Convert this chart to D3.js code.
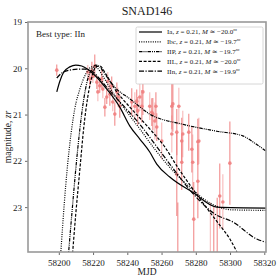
<!DOCTYPE html>
<html>
<head>
<meta charset="utf-8">
<script src="https://cdn.jsdelivr.net/npm/d3@7"></script>
<style>
  body { margin: 0; background: #fff; }
  text { font-family: "Liberation Serif", "DejaVu Serif", serif; fill: #222; }
</style>
</head>
<body>
<div id="chart"></div>
<script>
// observations: mjd, magnitude, error
var obsMjd = [58198.8, 58216.9, 58218.1, 58219.3, 58219.9, 58221.0, 58222.2, 58222.8, 58223.9, 58225.1,
  58225.7, 58226.9, 58228.0, 58228.6, 58229.8, 58230.9, 58231.5, 58232.7, 58233.9, 58234.5,
  58235.6, 58242.6, 58244.4, 58245.5, 58246.1, 58247.3, 58248.5, 58249.1, 58253.1, 58254.3,
  58254.9, 58256.1, 58256.7, 58257.2, 58260.1, 58266.0, 58266.6, 58266.0, 58268.9, 58268.9,
  58270.1, 58271.8, 58271.8, 58272.4, 58275.9, 58277.7, 58278.2, 58278.8, 58281.2, 58281.8,
  58281.2, 58294.0, 58295.8, 58299.9, 58269.5, 58288.5, 58290.5, 58292.5];
var obsMag = [20.04, 20.08, 20.23, 20.06, 20.17, 19.95, 20.30, 20.51, 20.38, 20.23,
  20.45, 20.84, 20.62, 20.28, 20.56, 20.38, 20.73, 20.99, 20.51, 20.62,
  20.82, 20.73, 20.82, 20.71, 20.92, 20.62, 20.82, 20.51, 20.82, 20.95,
  20.99, 21.14, 20.82, 21.27, 21.57, 20.82, 20.77, 21.42, 21.38, 22.29,
  20.82, 21.57, 22.03, 21.42, 21.38, 21.75, 22.03, 23.26, 21.59, 21.57,
  22.44, 22.76, 22.89, 22.05, 24.2, 24.1, 24.4, 24.0];
var obsErr = [0.12, 0.15, 0.15, 0.2, 0.15, 0.25, 0.15, 0.2, 0.15, 0.2,
  0.2, 0.2, 0.15, 0.2, 0.25, 0.2, 0.2, 0.25, 0.2, 0.2,
  0.25, 0.3, 0.3, 0.25, 0.3, 0.3, 0.35, 0.5, 0.3, 0.3,
  0.35, 0.4, 0.3, 0.3, 0.4, 0.5, 0.6, 0.4, 0.5, 0.9,
  0.4, 0.5, 0.6, 0.5, 0.4, 0.5, 0.6, 0.8, 0.5, 0.5,
  0.8, 0.7, 0.6, 0.9, 1.3, 1.2, 1.4, 1.2];

// model curves
var iaMjd = [58198.8, 58200.6, 58202.9, 58206.4, 58209.9, 58213.4, 58216.9, 58221.0, 58228.0, 58235.6, 58241.5, 58247.3, 58253.1, 58257.2, 58264.8, 58278.2, 58292.3, 58321];
var iaMag = [20.51, 20.28, 20.08, 19.97, 19.93, 19.95, 20.02, 20.15, 20.45, 20.84, 21.25, 21.53, 21.81, 22.07, 22.35, 22.68, 23.00, 23.02];
var ibcMjd = [58200.6, 58202.3, 58204.1, 58206.4, 58209.3, 58212.3, 58215.8, 58219.3, 58222.2, 58225.7, 58231.0, 58238.5, 58247.3, 58256.1, 58264.8, 58276.5, 58288.2, 58301.6, 58321];
var ibcMag = [24.3, 23.37, 22.50, 21.64, 20.88, 20.45, 20.12, 19.97, 19.99, 20.17, 20.49, 20.88, 21.31, 21.75, 22.14, 22.57, 22.91, 23.06, 23.07];
var iipMjd = [58205.0, 58207.6, 58209.9, 58212.3, 58214.6, 58216.9, 58219.3, 58221.6, 58223.9, 58227.4, 58232.7, 58241.5, 58253.1, 58272.4, 58292.3, 58307.4, 58314.5, 58321];
var iipMag = [24.3, 23.15, 22.18, 21.31, 20.66, 20.23, 20.02, 19.93, 19.97, 20.15, 20.41, 20.66, 20.99, 21.21, 21.36, 21.46, 21.62, 21.79];
var iilMjd = [58207.4, 58209.9, 58212.3, 58214.6, 58216.9, 58219.3, 58221.6, 58223.9, 58227.4, 58232.7, 58241.5, 58253.1, 58261.9, 58268.9, 58281.2, 58288.2, 58294.0, 58299.9, 58307.0];
var iilMag = [24.3, 23.15, 22.18, 21.27, 20.62, 20.19, 19.97, 19.95, 20.12, 20.45, 20.84, 21.31, 21.70, 22.11, 22.76, 23.11, 23.39, 23.69, 24.2];
var iinMjd = [58198.8, 58201.8, 58206.4, 58211.1, 58215.2, 58219.3, 58223.9, 58229.8, 58238.5, 58247.3, 58256.1, 58264.8, 58278.2, 58291.1, 58301.6, 58315.6, 58321];
var iinMag = [20.21, 20.10, 20.04, 20.02, 20.02, 20.06, 20.23, 20.49, 20.84, 21.21, 21.64, 22.07, 22.70, 23.15, 23.32, 23.69, 23.76];

var modelNames = ["Ia", "Ibc", "IIP", "IIL", "IIn"];
var modelAbsMag = ["20.0", "19.7", "19.7", "20.0", "19.9"];
var redshift = "0.21";
var xTicks = [58200, 58220, 58240, 58260, 58280, 58300, 58320];
var yTicks = [19, 20, 21, 22, 23];

var W = 280, H = 280;
var m = {left: 28, right: 14, top: 22, bottom: 28};

var svg = d3.select("#chart").append("svg")
    .attr("width", W).attr("height", H);

var x = d3.scaleLinear().domain([58182, 58321]).range([m.left, W - m.right]);
var y = d3.scaleLinear().domain([19, 23.97]).range([m.top, H - m.bottom]);

svg.append("clipPath").attr("id", "clip")
  .append("rect")
    .attr("x", m.left).attr("y", m.top)
    .attr("width", W - m.left - m.right).attr("height", H - m.top - m.bottom);

var plot = svg.append("g").attr("clip-path", "url(#clip)");

// error bars + points
var obs = obsMjd.map(function(d, i) { return {t: d, m: obsMag[i], e: obsErr[i]}; });
plot.selectAll("line.err").data(obs).enter().append("line")
    .attr("class", "err")
    .attr("x1", function(d) { return x(d.t); }).attr("x2", function(d) { return x(d.t); })
    .attr("y1", function(d) { return y(d.m - d.e); }).attr("y2", function(d) { return y(d.m + d.e); })
    .attr("stroke", "#f08080")
    .attr("stroke-opacity", function(d, i) { return i % 3 == 1 ? 0.55 : 0.9; })
    .attr("stroke-width", 1.1);
plot.selectAll("circle").data(obs).enter().append("circle")
    .attr("cx", function(d) { return x(d.t); })
    .attr("cy", function(d) { return y(d.m); })
    .attr("r", 1.8)
    .attr("fill", "#f08080")
    .attr("fill-opacity", 0.9);

var models = [
  {t: iaMjd, m: iaMag, dash: null},
  {t: ibcMjd, m: ibcMag, dash: "1,1.3"},
  {t: iipMjd, m: iipMag, dash: "3.5,1,1,1,1,1"},
  {t: iilMjd, m: iilMag, dash: "3,1.6"},
  {t: iinMjd, m: iinMag, dash: "5,1.5,1.2,1.5"}
];

var line = d3.line()
    .x(function(d) { return x(d[0]); })
    .y(function(d) { return y(d[1]); })
    .curve(d3.curveMonotoneX);

models.forEach(function(md) {
  var pts = md.t.map(function(t, i) { return [t, md.m[i]]; });
  plot.append("path")
      .attr("d", line(pts))
      .attr("fill", "none")
      .attr("stroke", "#000")
      .attr("stroke-width", 1.2)
      .attr("stroke-dasharray", md.dash);
});

// axes
var xAxis = d3.axisBottom(x).tickValues(xTicks).tickSize(3).tickFormat(d3.format("d"));
var yAxis = d3.axisLeft(y).tickValues(yTicks).tickSize(3).tickFormat(d3.format("d"));
var gx = svg.append("g").attr("transform", "translate(0," + (H - m.bottom) + ")").call(xAxis);
var gy = svg.append("g").attr("transform", "translate(" + m.left + ",0)").call(yAxis);
[gx, gy].forEach(function(g) {
  g.select(".domain").remove();
  g.selectAll(".tick line").attr("stroke", "#444").attr("stroke-width", 0.8);
  g.selectAll(".tick text").attr("font-family", "Liberation Serif").attr("font-size", 9).attr("fill", "#333");
});
gx.selectAll(".tick text").attr("dy", "0.9em");

svg.append("rect")
    .attr("x", m.left).attr("y", m.top)
    .attr("width", W - m.left - m.right).attr("height", H - m.top - m.bottom)
    .attr("fill", "none").attr("stroke", "#999").attr("stroke-width", 1.6);

// title and labels
svg.append("text").attr("x", (m.left + W - m.right) / 2).attr("y", 15)
    .attr("text-anchor", "middle").attr("font-size", 12).text("SNAD146");
svg.append("text").attr("x", (m.left + W - m.right) / 2).attr("y", 275)
    .attr("text-anchor", "middle").attr("font-size", 9.5).text("MJD");
var yl = svg.append("text")
    .attr("transform", "translate(11," + ((m.top + H - m.bottom) / 2) + ") rotate(-90)")
    .attr("text-anchor", "middle").attr("font-size", 9.5);
yl.append("tspan").text("magnitude, ");
yl.append("tspan").attr("font-style", "italic").text("zr");

svg.append("text").attr("x", 36).attr("y", 37).attr("font-size", 9).text("Best type: IIn");

// legend
var lg = svg.append("g").attr("transform", "translate(136,27)");
lg.append("rect").attr("width", 127).attr("height", 57).attr("rx", 1.5)
    .attr("fill", "#fff").attr("stroke", "#ccc").attr("stroke-width", 0.8);
models.forEach(function(md, i) {
  var yy = 5 + i * 9.8;
  lg.append("line").attr("x1", 3).attr("x2", 26).attr("y1", yy).attr("y2", yy)
      .attr("stroke", "#000").attr("stroke-width", 1.2).attr("stroke-dasharray", md.dash);
  var t = lg.append("text").attr("x", 31).attr("y", yy + 2.4).attr("font-size", 7);
  t.append("tspan").text(modelNames[i] + ", ");
  t.append("tspan").attr("font-style", "italic").text("z");
  t.append("tspan").text(" = " + redshift + ", ");
  t.append("tspan").attr("font-style", "italic").text("M");
  t.append("tspan").text(" \u2243 \u2212" + modelAbsMag[i]);
  t.append("tspan").attr("font-size", 5).attr("dy", -3).attr("font-style", "italic").text("m");
});
</script>
</body>
</html>
